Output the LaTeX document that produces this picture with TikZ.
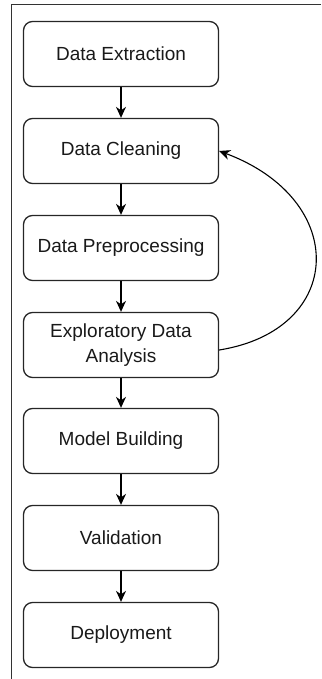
\documentclass[tikz,border=0pt]{standalone}
\usepackage{fontspec}
\setmainfont{Liberation Sans}
\usetikzlibrary{arrows.meta}
\begin{document}
\begin{tikzpicture}[x=1pt,y=1pt,
  stepbox/.style={draw=black!85, line width=1.3pt, rounded corners=9pt,
    minimum width=195pt, minimum height=65pt, inner sep=0pt, align=center,
    text=black!90, font=\fontsize{19}{25}\selectfont},
  flow/.style={line width=1.3pt, -{Stealth[length=11pt,width=10pt,inset=3.5pt]}},
  frame/.style={line width=0.9pt, draw=black!80}]
\useasboundingbox (0,0) rectangle (321,-679);
\coordinate (f1) at (321,-4);
\coordinate (f2) at (11,-4);
\coordinate (f3) at (11,-679);
\draw[frame] (f1) -- (f2) -- (f3);
\node[stepbox] (ext) at (121,-54) {Data Extraction};
\node[stepbox] (cln) at (121,-151) {Data Cleaning};
\node[stepbox] (pre) at (121,-248) {Data Preprocessing};
\node[stepbox] (eda) at (121,-345) {Exploratory Data\\Analysis};
\node[stepbox] (mod) at (121,-441) {Model Building};
\node[stepbox] (val) at (121,-538) {Validation};
\node[stepbox] (dep) at (121,-635) {Deployment};
\draw[flow] (ext) -- (cln);
\draw[flow] (cln) -- (pre);
\draw[flow] (pre) -- (eda);
\draw[flow] (eda) -- (mod);
\draw[flow] (mod) -- (val);
\draw[flow] (val) -- (dep);
\draw[flow, line width=1.1pt] ([yshift=-5pt]eda.east) .. controls (345,-330) and (350,-200) .. (cln.east);
\end{tikzpicture}
\end{document}
